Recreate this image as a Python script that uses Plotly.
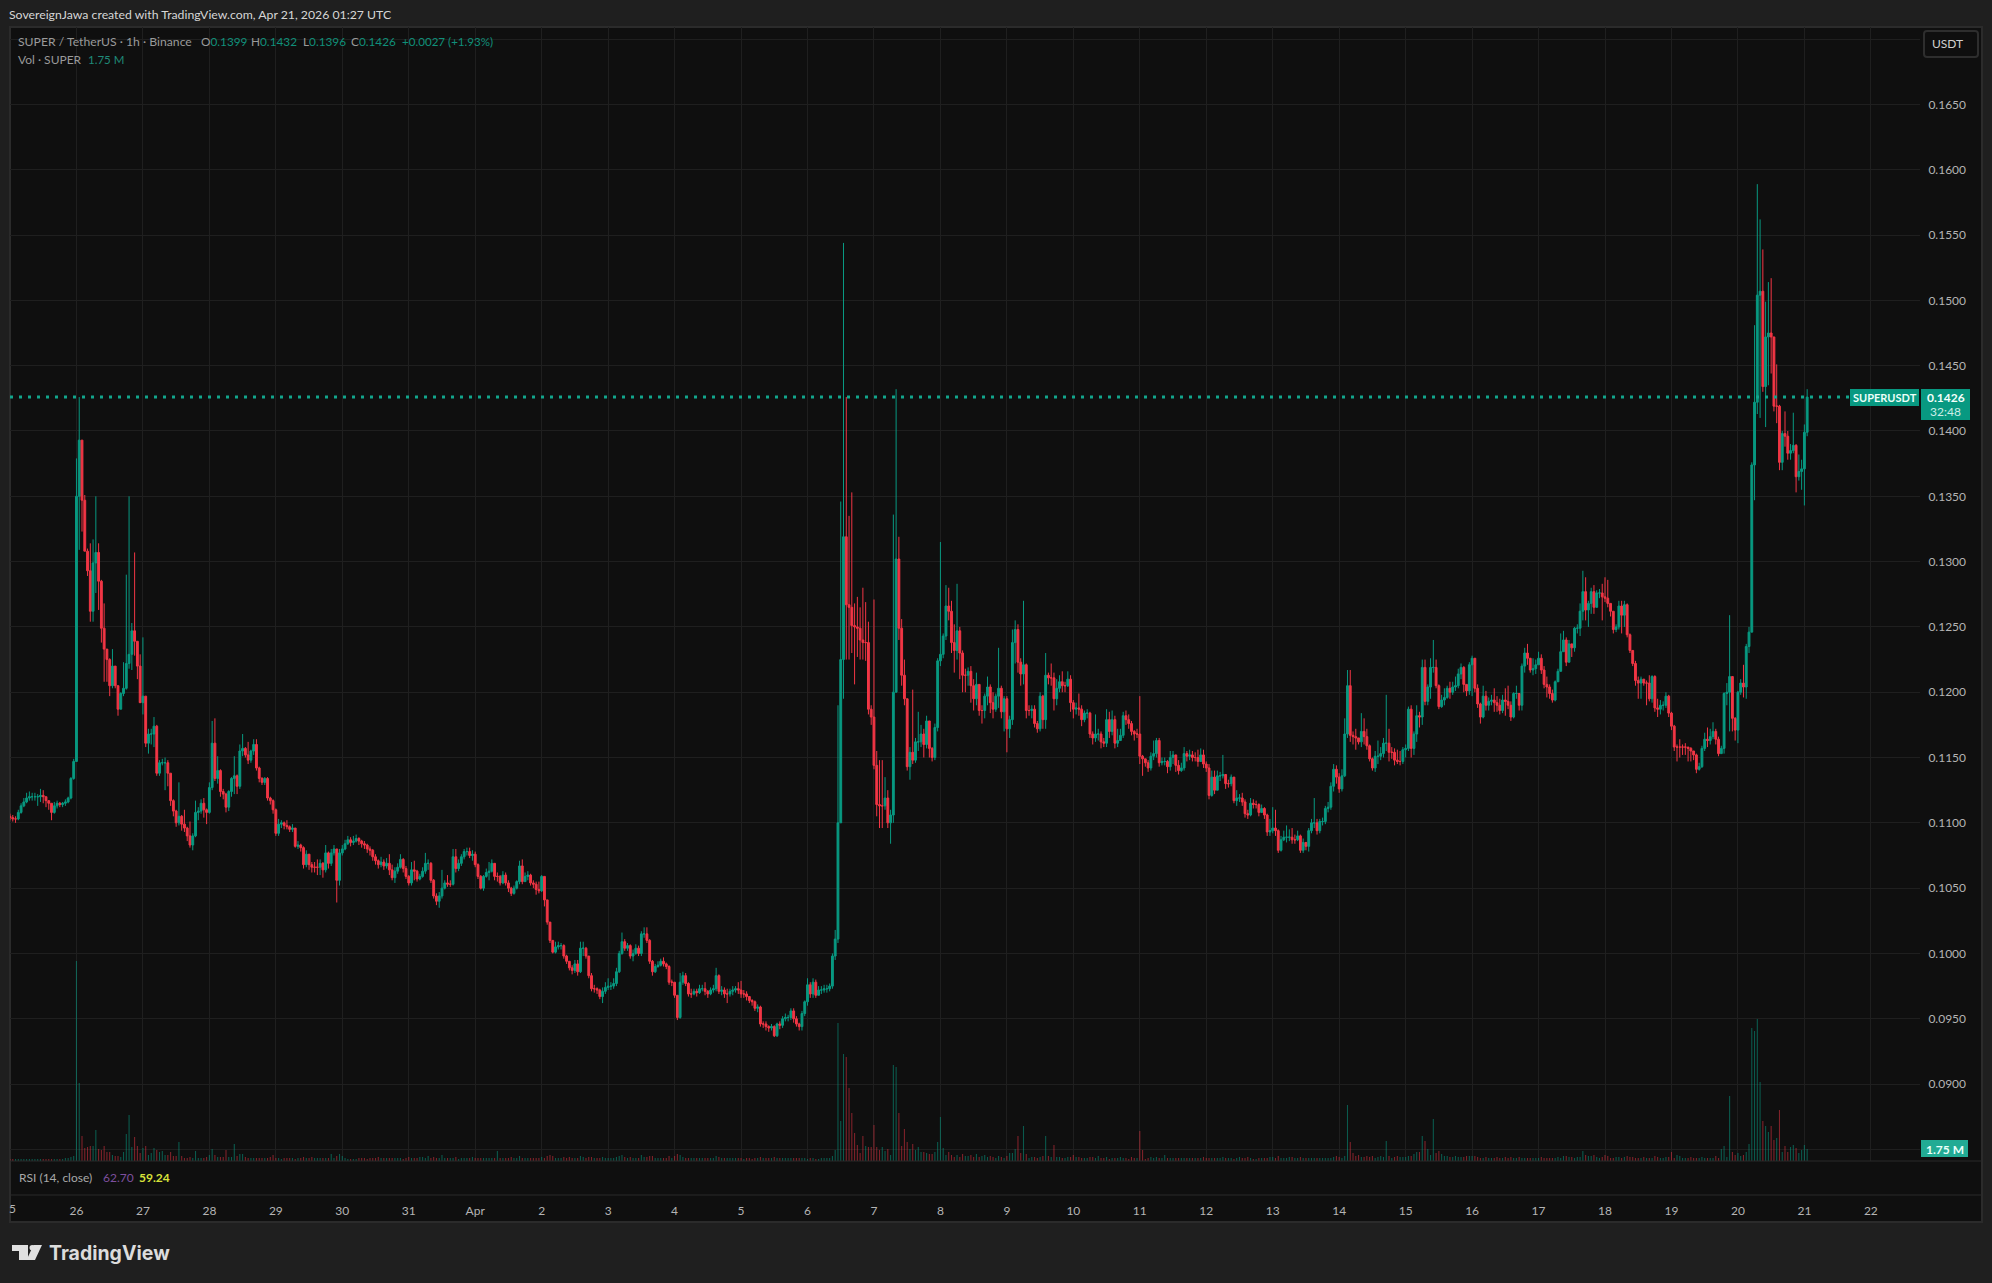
import pandas as pd
import plotly.graph_objects as go

W, H = 1992, 1283
# prices in units of 0.0001, one row per day, hourly from 2026-03-25 00:00
CLOSE = [
1104,1103,1103,1108,1113,1116,1119,1120,1120,1120,1120,1121,1120,1117,1115,1108,1113,1115,1114,1115,1116,1119,1134,1147,
1350,1393,1347,1308,1293,1262,1299,1307,1285,1249,1233,1225,1205,1220,1205,1187,1199,1203,1222,1229,1247,1239,1220,1192,
1197,1161,1168,1168,1174,1138,1146,1146,1146,1138,1117,1109,1100,1105,1099,1096,1090,1083,1090,1108,1109,1115,1110,1108,
1127,1161,1134,1140,1124,1122,1112,1124,1134,1136,1128,1155,1157,1152,1148,1155,1160,1142,1134,1131,1134,1119,1117,1110,
1092,1099,1100,1098,1097,1095,1096,1082,1083,1081,1068,1076,1068,1066,1066,1066,1069,1064,1077,1069,1077,1080,1056,1077,
1080,1084,1087,1085,1086,1088,1086,1084,1083,1080,1079,1074,1071,1068,1070,1067,1069,1064,1058,1063,1066,1072,1065,1059,
1054,1064,1063,1057,1059,1063,1069,1069,1056,1044,1040,1044,1050,1054,1053,1053,1074,1065,1069,1074,1078,1078,1075,1076,
1068,1059,1050,1059,1062,1063,1069,1059,1059,1054,1060,1054,1050,1046,1050,1055,1067,1055,1059,1060,1054,1053,1049,1048,
1059,1041,1024,1010,1001,1005,1006,1006,998,994,989,987,992,986,1004,1004,998,983,973,973,972,967,971,974,
975,975,977,986,1000,1009,1004,1006,998,1000,1004,1000,1015,1015,1010,994,986,990,991,994,992,990,978,978,
968,951,978,983,977,969,969,971,970,973,973,971,969,972,973,983,971,972,969,969,971,972,973,972,
969,969,967,964,963,958,959,946,946,944,943,944,937,946,945,950,951,951,956,950,946,944,954,963,
976,969,978,968,972,972,973,973,975,998,1011,1100,1225,1319,1267,1265,1251,1250,1249,1240,1238,1238,1187,1181,
1144,1114,1113,1113,1119,1100,1106,1200,1302,1249,1213,1195,1143,1154,1148,1162,1162,1168,1160,1178,1157,1150,1173,1224,
1229,1243,1266,1262,1238,1232,1247,1230,1213,1213,1216,1205,1195,1206,1186,1186,1197,1204,1192,1187,1197,1203,1185,1195,
1172,1179,1238,1248,1223,1214,1221,1186,1186,1187,1176,1172,1197,1179,1213,1211,1211,1195,1203,1208,1205,1205,1210,1192,
1187,1188,1187,1179,1184,1184,1168,1165,1168,1168,1162,1161,1179,1170,1179,1161,1163,1167,1182,1179,1176,1170,1168,1168,
1151,1149,1146,1142,1151,1153,1163,1146,1147,1147,1143,1150,1152,1144,1140,1142,1153,1151,1152,1150,1150,1147,1152,1145,
1142,1121,1135,1125,1136,1136,1137,1130,1130,1135,1117,1119,1119,1116,1107,1106,1115,1114,1114,1108,1111,1106,1093,1094,
1096,1094,1079,1087,1089,1089,1089,1087,1087,1090,1079,1085,1082,1094,1100,1100,1094,1101,1101,1111,1112,1128,1141,1135,
1126,1136,1168,1205,1167,1166,1165,1162,1170,1166,1159,1149,1142,1151,1151,1153,1161,1161,1154,1154,1148,1147,1147,1156,
1157,1187,1157,1168,1182,1181,1219,1193,1204,1219,1219,1205,1189,1194,1196,1203,1200,1204,1205,1214,1219,1206,1201,1221,
1226,1203,1191,1181,1197,1190,1193,1194,1192,1190,1186,1194,1193,1190,1181,1199,1199,1190,1220,1230,1226,1217,1218,1221,
1226,1217,1206,1204,1199,1194,1208,1216,1231,1240,1223,1237,1234,1249,1249,1262,1277,1263,1268,1277,1265,1276,1276,1273,
1272,1268,1262,1248,1250,1266,1259,1267,1244,1232,1222,1209,1207,1210,1207,1207,1195,1212,1188,1187,1190,1190,1197,1184,
1174,1158,1158,1158,1158,1158,1157,1155,1152,1141,1143,1157,1164,1163,1166,1170,1164,1153,1157,1199,1200,1212,1180,1171,
1200,1207,1204,1235,1246,1374,1422,1504,1507,1434,1472,1475,1472,1419,1419,1376,1398,1396,1383,1385,1389,1365,1369,1371,
1399,1426,
]
HIGH = [
1107,1106,1105,1110,1115,1119,1123,1124,1123,1123,1122,1126,1125,1120,1117,1115,1116,1117,1116,1116,1118,1120,1135,1149,
1379,1426,1393,1351,1310,1314,1317,1350,1314,1286,1268,1233,1226,1233,1220,1205,1200,1223,1290,1350,1253,1307,1238,1229,
1242,1197,1172,1172,1181,1175,1148,1149,1150,1148,1138,1118,1110,1131,1106,1110,1097,1101,1092,1117,1112,1118,1119,1111,
1131,1178,1180,1151,1141,1126,1123,1125,1135,1151,1137,1160,1168,1158,1162,1156,1164,1164,1143,1135,1135,1135,1120,1118,
1111,1103,1102,1101,1102,1098,1099,1096,1086,1084,1082,1079,1075,1070,1070,1072,1072,1070,1083,1078,1080,1083,1079,1080,
1083,1087,1090,1089,1090,1091,1089,1087,1086,1084,1082,1080,1076,1072,1074,1072,1073,1076,1068,1066,1069,1076,1073,1067,
1060,1070,1071,1064,1061,1066,1077,1072,1070,1057,1046,1047,1064,1056,1060,1056,1080,1080,1072,1076,1080,1081,1081,1079,
1078,1069,1060,1060,1065,1070,1072,1069,1062,1060,1063,1062,1056,1051,1052,1056,1071,1072,1062,1063,1061,1056,1055,1055,
1060,1059,1041,1024,1010,1009,1009,1008,1007,999,994,991,995,995,1009,1009,1005,998,985,976,974,973,974,978,
981,978,981,989,1002,1016,1011,1008,1007,1003,1007,1006,1017,1020,1020,1011,995,992,994,996,997,993,991,980,
978,968,985,986,985,978,973,973,973,976,976,978,972,974,976,989,984,975,974,973,973,975,975,978,
979,972,971,967,965,964,961,960,948,948,945,946,945,947,948,952,954,953,958,958,952,947,956,964,
981,978,981,980,975,975,976,976,977,1000,1018,1190,1346,1544,1426,1335,1353,1268,1273,1265,1280,1269,1254,1190,
1271,1155,1148,1148,1135,1125,1110,1336,1432,1319,1256,1225,1195,1158,1202,1165,1185,1175,1172,1182,1178,1158,1176,1226,
1315,1245,1282,1280,1270,1252,1283,1250,1232,1218,1219,1220,1210,1215,1200,1190,1199,1212,1206,1200,1199,1234,1205,1197,
1197,1182,1248,1255,1252,1226,1270,1222,1190,1190,1190,1178,1200,1198,1230,1215,1222,1215,1210,1213,1216,1208,1216,1213,
1194,1192,1199,1190,1186,1187,1185,1170,1183,1172,1170,1165,1187,1185,1186,1182,1172,1172,1185,1186,1183,1178,1171,1172,
1197,1152,1148,1148,1154,1163,1165,1165,1150,1150,1148,1155,1155,1152,1148,1146,1158,1155,1156,1155,1154,1156,1157,1156,
1147,1145,1140,1140,1140,1139,1152,1137,1133,1137,1135,1125,1122,1123,1118,1110,1119,1118,1117,1115,1114,1112,1107,1103,
1112,1110,1095,1090,1094,1098,1095,1096,1091,1094,1091,1088,1085,1096,1103,1119,1103,1103,1104,1113,1116,1131,1145,1144,
1138,1141,1180,1217,1217,1170,1172,1165,1184,1180,1172,1160,1150,1155,1163,1158,1165,1198,1172,1158,1157,1156,1155,1158,
1160,1189,1190,1170,1190,1185,1225,1225,1206,1226,1240,1225,1206,1198,1203,1205,1208,1208,1212,1218,1222,1220,1203,1223,
1228,1226,1206,1192,1205,1201,1196,1198,1203,1197,1195,1198,1203,1205,1193,1200,1205,1198,1222,1234,1237,1226,1226,1225,
1231,1229,1220,1212,1206,1202,1209,1218,1245,1247,1242,1240,1237,1250,1252,1268,1293,1288,1270,1280,1282,1278,1279,1283,
1288,1286,1264,1262,1252,1270,1270,1270,1268,1245,1230,1224,1212,1212,1208,1209,1213,1213,1213,1195,1194,1193,1200,1198,
1185,1175,1160,1164,1160,1161,1158,1158,1155,1153,1146,1159,1169,1173,1172,1177,1172,1166,1159,1200,1207,1259,1212,1181,
1201,1210,1221,1237,1250,1376,1481,1589,1562,1539,1499,1514,1517,1470,1451,1420,1400,1415,1400,1390,1414,1390,1382,1378,
1405,1432,
]
LOW = [
1102,1101,1100,1102,1107,1112,1115,1117,1117,1117,1113,1116,1115,1112,1110,1102,1107,1111,1112,1112,1113,1115,1118,1133,
1147,1309,1323,1308,1289,1254,1254,1276,1263,1238,1208,1208,1197,1203,1203,1182,1187,1197,1202,1218,1217,1228,1210,1192,
1183,1158,1153,1160,1158,1136,1136,1144,1125,1128,1113,1105,1097,1098,1094,1093,1086,1081,1079,1089,1102,1107,1104,1099,
1107,1125,1132,1130,1120,1118,1108,1109,1120,1122,1122,1126,1151,1150,1145,1146,1152,1140,1131,1129,1129,1117,1114,1107,
1090,1090,1096,1095,1095,1093,1093,1081,1080,1078,1065,1066,1064,1062,1062,1060,1060,1058,1062,1065,1067,1075,1039,1052,
1075,1079,1083,1082,1083,1085,1083,1081,1080,1077,1075,1071,1068,1065,1066,1064,1065,1060,1056,1054,1061,1065,1062,1057,
1052,1052,1056,1055,1056,1058,1061,1064,1054,1042,1037,1035,1042,1049,1051,1051,1052,1062,1063,1067,1072,1075,1073,1071,
1066,1057,1049,1048,1058,1056,1062,1056,1055,1052,1053,1052,1047,1044,1045,1049,1053,1053,1056,1056,1052,1050,1045,1046,
1047,1036,1022,1008,1000,1000,1003,1003,996,992,987,984,985,983,985,998,996,981,971,970,969,965,962,969,
972,972,973,975,985,999,1002,1002,996,994,999,998,998,1012,1008,992,983,985,989,990,990,988,976,975,
966,949,950,976,975,967,966,968,967,969,971,968,966,968,970,971,969,968,966,962,967,968,970,969,
966,966,964,962,960,956,955,944,943,941,940,941,936,936,942,943,948,948,949,947,944,941,941,952,
960,966,966,966,968,969,970,970,971,973,995,1008,1100,1195,1225,1225,1230,1206,1227,1225,1225,1224,1183,1175,
1141,1105,1096,1096,1110,1096,1084,1100,1208,1240,1205,1190,1140,1133,1145,1146,1155,1158,1150,1157,1150,1147,1148,1170,
1220,1226,1240,1255,1230,1215,1225,1210,1200,1200,1205,1192,1186,1190,1182,1176,1180,1190,1184,1180,1185,1188,1180,1170,
1154,1165,1175,1222,1215,1205,1206,1180,1182,1180,1173,1169,1170,1172,1172,1206,1205,1186,1190,1200,1200,1200,1204,1185,
1180,1183,1182,1174,1177,1180,1165,1160,1162,1163,1157,1158,1158,1165,1167,1157,1158,1163,1165,1175,1172,1167,1163,1165,
1145,1136,1143,1139,1140,1148,1150,1143,1144,1144,1138,1140,1145,1139,1137,1139,1140,1147,1148,1147,1147,1143,1148,1142,
1139,1118,1120,1122,1125,1132,1134,1126,1127,1128,1115,1113,1116,1113,1104,1103,1105,1111,1111,1105,1108,1103,1090,1090,
1092,1090,1077,1078,1086,1085,1086,1084,1084,1086,1077,1077,1079,1078,1092,1096,1091,1092,1098,1099,1108,1110,1124,1130,
1123,1124,1135,1165,1162,1160,1156,1160,1158,1160,1156,1147,1140,1139,1145,1148,1150,1155,1147,1149,1144,1145,1144,1145,
1150,1155,1150,1152,1162,1173,1175,1190,1190,1195,1215,1203,1187,1188,1190,1195,1195,1198,1201,1203,1210,1200,1197,1198,
1197,1200,1188,1176,1180,1186,1186,1190,1185,1185,1183,1184,1182,1187,1178,1180,1195,1186,1186,1215,1221,1215,1213,1214,
1222,1214,1203,1196,1195,1192,1193,1208,1217,1232,1220,1225,1227,1231,1245,1243,1255,1255,1250,1260,1260,1265,1272,1255,
1269,1265,1258,1245,1246,1248,1245,1250,1242,1230,1220,1205,1195,1195,1205,1190,1193,1192,1185,1181,1183,1186,1188,1181,
1171,1155,1147,1150,1152,1152,1147,1147,1148,1138,1140,1142,1155,1158,1160,1164,1160,1151,1154,1153,1190,1170,1170,1163,
1161,1198,1196,1195,1230,1246,1347,1413,1410,1430,1403,1435,1444,1415,1406,1370,1370,1388,1378,1378,1383,1353,1362,1355,
1343,1396,
]
# volume in units of about 146k (1.75M = 12)
VOLUME = [
2,2,2,2,2,2,2,2,2,2,2,2,2,2,2,2,2,2,2,2,3,3,4,5,
200,78,25,13,14,15,15,31,12,11,15,9,9,6,5,5,4,9,27,46,14,24,15,8,
13,15,6,8,13,11,9,10,6,6,9,5,5,19,5,3,3,4,3,10,3,3,3,4,
6,12,6,4,4,4,11,4,4,17,5,7,7,4,3,3,3,3,3,3,3,3,4,6,
3,3,2,3,3,3,3,2,3,3,4,3,3,4,3,3,3,3,3,3,7,3,5,7,
5,3,2,2,2,2,3,3,3,2,3,3,3,4,3,3,3,3,3,3,3,3,2,3,
4,3,3,3,4,4,3,5,3,4,3,3,6,3,3,3,3,4,2,3,3,3,3,4,
3,3,3,3,3,3,3,3,10,3,3,3,3,4,3,3,5,3,3,3,3,3,3,3,
4,3,5,6,5,3,3,3,4,3,4,3,3,3,5,4,3,4,4,3,3,3,4,3,
3,3,3,4,5,6,4,3,4,3,3,3,6,4,4,5,5,3,3,3,3,3,5,3,
5,7,6,4,3,3,3,3,3,3,3,3,3,3,3,5,4,3,3,3,3,3,3,3,
3,2,3,3,2,3,3,4,3,3,3,3,4,3,3,3,3,3,3,3,3,3,3,3,
2,3,3,2,2,3,3,3,3,5,11,138,40,107,104,73,48,28,16,8,25,15,14,14,
36,14,11,14,10,12,6,96,94,48,15,32,19,12,17,11,14,9,9,8,7,7,9,19,
44,13,6,9,6,4,6,4,7,5,5,6,4,7,4,5,6,4,5,4,3,5,4,3,
5,8,8,12,25,8,35,7,3,4,4,3,4,5,25,5,4,16,4,4,3,3,4,4,
6,4,4,3,3,3,4,4,3,5,3,3,4,2,3,3,3,4,3,3,2,4,3,3,
30,11,2,3,4,3,4,3,3,6,3,3,3,3,3,3,3,3,3,3,3,3,3,4,
3,3,3,3,3,3,4,3,3,3,2,3,4,3,3,4,3,2,2,3,3,3,3,4,
4,3,5,3,3,3,4,4,3,3,4,3,3,3,3,3,3,3,3,3,3,3,4,5,
4,3,5,56,19,8,5,6,4,4,5,4,5,3,4,5,4,20,5,3,4,5,4,4,
4,5,5,7,9,9,25,20,12,6,42,8,10,7,5,5,4,4,5,4,4,4,5,5,
5,5,4,3,3,4,3,3,3,4,3,3,4,3,4,3,3,4,3,3,3,3,3,3,
3,4,3,3,3,3,3,4,3,5,5,4,4,3,4,4,10,6,5,5,6,4,3,4,
6,5,3,3,4,4,3,4,5,4,4,3,3,3,4,3,3,3,5,4,3,3,4,4,
9,3,6,5,3,3,3,4,3,3,3,4,3,3,3,3,5,3,12,15,4,65,9,6,
8,5,6,9,17,133,130,142,79,40,35,29,35,21,23,51,9,15,9,14,16,13,8,11,
16,12,
]
FIRST_OPEN = 1105
TICK_DATES = ["2026-03-26","2026-03-27","2026-03-28","2026-03-29","2026-03-30","2026-03-31","2026-04-01","2026-04-02",
"2026-04-03","2026-04-04","2026-04-05","2026-04-06","2026-04-07","2026-04-08","2026-04-09","2026-04-10","2026-04-11",
"2026-04-12","2026-04-13","2026-04-14","2026-04-15","2026-04-16","2026-04-17","2026-04-18","2026-04-19","2026-04-20",
"2026-04-21","2026-04-22"]
TICK_LABELS = ["26","27","28","29","30","31","Apr","2","3","4","5","6","7","8","9","10","11","12","13","14","15","16",
"17","18","19","20","21","22"]
PRICE_TICKS = [0.085,0.09,0.095,0.10,0.105,0.11,0.115,0.12,0.125,0.13,0.135,0.14,0.145,0.15,0.155,0.16,0.165,0.17]
PRICE_LABELS = ["","0.0900","0.0950","0.1000","0.1050","0.1100","0.1150","0.1200","0.1250","0.1300","0.1350","0.1400",
"0.1450","0.1500","0.1550","0.1600","0.1650",""]
LAST_PRICE = 0.1426

assert len(CLOSE) == len(HIGH) == len(LOW) == len(VOLUME), (len(CLOSE), len(HIGH), len(LOW), len(VOLUME))

BG = "#1f1f1f"; PANE = "#0f0f0f"; EDGE = "#2b2b2b"; GRID = "#1f1f1f"
UP = "#089981"; DOWN = "#f23645"; TXT = "#b4b4b4"; FONT = "Lato"

times = pd.date_range("2026-03-25", periods=len(CLOSE), freq="h")
opens = [FIRST_OPEN] + CLOSE[:-1]
k = 1e-4
o = [v * k for v in opens]; c = [v * k for v in CLOSE]
h = [max(a, b, d) * k for a, b, d in zip(HIGH, opens, CLOSE)]
l = [min(a, b, d) * k for a, b, d in zip(LOW, opens, CLOSE)]

def px(x): return x / W
def py(y): return 1 - y / H

fig = go.Figure()
fig.add_trace(go.Bar(x=times, y=VOLUME, yaxis="y", xaxis="x", width=1400000,
    marker=dict(color=["rgba(8,153,129,0.55)" if b >= a else "rgba(242,54,69,0.5)" for a, b in zip(opens, CLOSE)], line_width=0),
    showlegend=False, hoverinfo="skip"))
fig.add_trace(go.Candlestick(x=times, open=o, high=h, low=l, close=c, yaxis="y2", xaxis="x", showlegend=False,
    increasing=dict(line=dict(color=UP, width=1), fillcolor=UP),
    decreasing=dict(line=dict(color=DOWN, width=1), fillcolor=DOWN), whiskerwidth=0))

def rect(x0, y0, x1, y1, fill, line=None, lw=1, layer="above"):
    return dict(type="rect", xref="paper", yref="paper", x0=px(x0), x1=px(x1), y0=py(y0), y1=py(y1),
                fillcolor=fill, line=dict(color=line or fill, width=lw if line else 0), layer=layer)

def hline(y, x0=10, x1=1982, color=EDGE):
    return dict(type="line", xref="paper", yref="paper", x0=px(x0), x1=px(x1), y0=py(y), y1=py(y),
                line=dict(color=color, width=1), layer="above")

def poly(points, fill):
    d = "M" + " L".join(f"{px(a):.5f},{py(b):.5f}" for a, b in points) + " Z"
    return dict(type="path", xref="paper", yref="paper", path=d, fillcolor=fill, line_width=0, layer="above")

shapes = [
    rect(10, 27, 1982, 1222, PANE, EDGE, 2, layer="below"),
    hline(1161), hline(1195),
    dict(type="line", xref="paper", yref="y2", x0=px(10), x1=px(1850), y0=LAST_PRICE, y1=LAST_PRICE,
         line=dict(color="#12a58c", width=3, dash="3px,6px"), layer="above"),
    rect(1850, 389, 1919, 406, UP),
    rect(1921, 389, 1970, 420, UP),
    rect(1921, 1140, 1968, 1157, "#22ab94"),
    dict(type="path", xref="paper", yref="paper", line=dict(color="#2e2e2e", width=2), fillcolor=PANE, layer="above",
         path=f"M{px(1927)},{py(31)} L{px(1975)},{py(31)} Q{px(1978)},{py(31)} {px(1978)},{py(34)} L{px(1978)},{py(54)} "
              f"Q{px(1978)},{py(57)} {px(1975)},{py(57)} L{px(1927)},{py(57)} Q{px(1924)},{py(57)} {px(1924)},{py(54)} "
              f"L{px(1924)},{py(34)} Q{px(1924)},{py(31)} {px(1927)},{py(31)} Z"),
    poly([(12,1245),(28,1245),(28,1260),(19,1260),(19,1251),(12,1251)], "#e0e0e0"),
    dict(type="circle", xref="paper", yref="paper", x0=px(29.5), x1=px(35), y0=py(1245), y1=py(1250.5),
         fillcolor="#e0e0e0", line_width=0, layer="above"),
    poly([(33.5,1245),(42,1245),(35,1260),(26.5,1260)], "#e0e0e0"),
]

def note(x, y, text, size=12, color=TXT, anchor="left", family=FONT):
    return dict(xref="paper", yref="paper", x=px(x), y=py(y), text=text, showarrow=False, xanchor=anchor, yanchor="middle",
                align="left", font=dict(family=family, size=size, color=color), borderpad=0)

def span(t, col): return f'<span style="color:{col}">{t}</span>'
G = "#0f8f7a"; L = "#9a9a9a"
annotations = [
    note(8, 15, "SovereignJawa created with TradingView.com, Apr 21, 2026 01:27 UTC", 12.25, "#d6d6d6"),
    note(17, 42, "SUPER / TetherUS · 1h · Binance", 12.2, L),
    note(200, 42, "O" + span("0.1399", G), 11.8, L),
    note(250, 42, "H" + span("0.1432", G), 11.8, L),
    note(302, 42, "L" + span("0.1396", G), 11.8, L),
    note(350, 42, "C" + span("0.1426", G), 11.8, L),
    note(401, 42, "+0.0027 (+1.93%)", 11.6, G),
    note(17, 59, "Vol · SUPER", 12, L),
    note(87, 59, "1.75 M", 11.5, "#1f8a78"),
    note(18, 1177, "RSI (14, close)", 12, "#a8a8a8"),
    note(102, 1177, "62.70", 12, "#7d4f9e"),
    note(138, 1177, "<b>59.24</b>", 12, "#d8e23a"),
    note(8, 1208, "5", 12, TXT),
    note(1947, 44, "USDT", 12, "#d0d0d0", "center"),
    note(1884.5, 397.5, "<b>SUPERUSDT</b>", 11, "#eafff9", "center"),
    note(1945.5, 397.5, "<b>0.1426</b>", 12, "#f4fffc", "center"),
    note(1945.5, 412, "32:48", 12, "#cdeee7", "center"),
    note(1944.5, 1149, "<b>1.75 M</b>", 12, "#eafff9", "center"),
    note(48, 1253, "<b>TradingView</b>", 19.5, "#dcdcdc", family="Inter"),
]

fig.update_layout(
    width=W, height=H, margin=dict(l=0, r=0, t=0, b=0), autosize=False,
    paper_bgcolor=BG, plot_bgcolor=PANE, showlegend=False, barmode="overlay", boxgap=0.05,
    font=dict(family=FONT, size=12, color=TXT),
    shapes=shapes, annotations=annotations,
    xaxis=dict(type="date", domain=[px(10), px(1920)], range=["2026-03-25 00:00", "2026-04-22 17:45"],
               anchor="free", position=py(1195), rangeslider=dict(visible=False),
               tickmode="array", tickvals=TICK_DATES, ticktext=TICK_LABELS, showgrid=True, gridcolor=GRID, gridwidth=1,
               zeroline=False, showline=False, ticks="outside", ticklen=5, tickcolor=PANE, tickfont=dict(size=12, color=TXT)),
    yaxis=dict(domain=[py(1161), py(27)], range=[0, 1134], visible=False, fixedrange=True),
    yaxis2=dict(domain=[py(1161), py(27)], overlaying="y", side="right", anchor="x", range=[0.08411, 0.17093],
                tickmode="array", tickvals=PRICE_TICKS, ticktext=PRICE_LABELS, showgrid=True, gridcolor=GRID, gridwidth=1,
                zeroline=False, showline=False, ticks="outside", ticklen=5, tickcolor=PANE, tickfont=dict(size=12, color=TXT)),
)

fig.write_html("out.html", config=dict(displayModeBar=False),
               post_script="document.body.style.margin='0';document.documentElement.style.overflow='hidden';")
